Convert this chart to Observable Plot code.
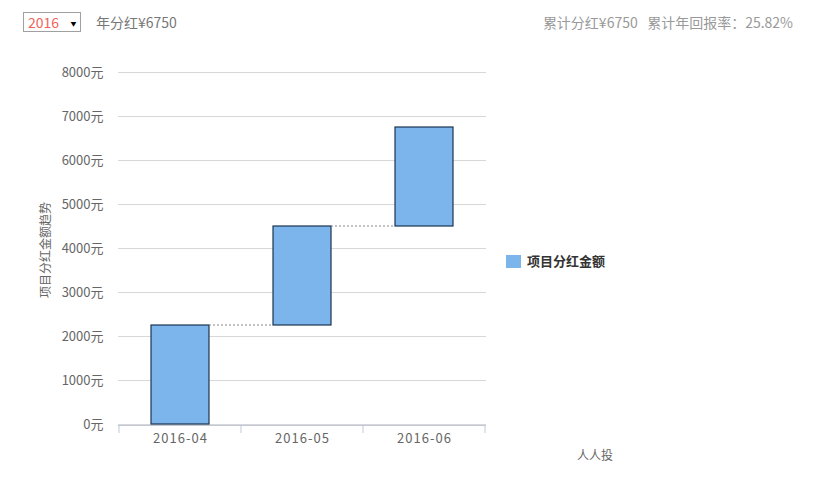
<!DOCTYPE html>
<html><head><meta charset="utf-8">
<script src="https://cdn.jsdelivr.net/npm/d3@7"></script>
<script src="https://cdn.jsdelivr.net/npm/@observablehq/plot@0.6"></script>
<style>
body{margin:0;background:#fff;font-family:"Noto Sans CJK SC","Noto Sans",sans-serif;}
#wrap{position:relative;width:817px;height:493px;overflow:hidden;}
#sel{position:absolute;left:23px;top:12px;width:56px;height:18px;border:1px solid #a0a0a0;font-size:14px;line-height:18px;color:#f0645a;}
#sel span.v{position:absolute;left:4px;top:0;}
#sel span.a{position:absolute;left:46px;top:1px;font-size:7px;color:#000;transform:scale(0.85);}
#yr{position:absolute;left:96px;top:12px;font-size:14px;line-height:20px;color:#777;}
#tot{position:absolute;right:24px;top:12px;font-size:14px;line-height:20px;color:#999;}
#chart{position:absolute;left:0;top:45px;}
#chart g[aria-label="x-axis tick label"] text{letter-spacing:1px;}
#legend{position:absolute;left:506px;top:252px;font-size:13px;font-weight:bold;color:#333;line-height:18px;}
#legend i{display:inline-block;width:15px;height:13px;background:#7cb5ec;vertical-align:-2px;margin-right:6px;}
#credit{position:absolute;left:577px;top:446px;font-size:12px;color:#666;line-height:18px;}
#ylab{position:absolute;left:44px;top:250px;transform:translate(-50%,-50%) rotate(-90deg);font-size:12px;color:#666;white-space:nowrap;}
</style></head>
<body><div id="wrap">
<div id="sel"><span class="v">2016</span><span class="a">▼</span></div>
<div id="yr"></div>
<div id="tot"></div>
<div id="chart"></div>
<div id="ylab">项目分红金额趋势</div>
<div id="legend"><i></i>项目分红金额</div>
<div id="credit">人人投</div>
</div>
<script>
const months = ["2016-04", "2016-05", "2016-06"];
const amounts = [2250, 2250, 2250];
const yTicks = [0, 1000, 2000, 3000, 4000, 5000, 6000, 7000, 8000];
const yearTotal = 6750;
const cumulativeTotal = 6750;
const annualReturn = "25.82%";

document.getElementById("yr").textContent = "年分红¥" + yearTotal;
document.getElementById("tot").innerHTML = "累计分红¥" + cumulativeTotal + "&nbsp;&nbsp;&nbsp;累计年回报率：" + annualReturn;

const ends = d3.cumsum(amounts);
const data = months.map((m, i) => ({month: m, start: ends[i] - amounts[i], end: ends[i]}));

const W = 817, H = 448, ML = 118, MR = 331, MT = 27, MB = 69;
const barInset = 32;

const plot = Plot.plot({
  width: W, height: H,
  marginLeft: ML, marginRight: MR, marginTop: MT, marginBottom: MB,
  style: {fontFamily: '"Noto Sans CJK SC","Noto Sans",sans-serif', fontSize: "13px", color: "#666", background: "#fff"},
  x: {domain: months, padding: 0, axis: null},
  y: {domain: [0, 8000], axis: null},
  marks: [
    Plot.gridY(yTicks, {stroke: "#d8d8d8", strokeOpacity: 1}),
    Plot.axisY(yTicks, {tickSize: 0, tickPadding: 15, label: null, tickFormat: d => d + "元", fill: "#666", fontSize: 13}),
    Plot.axisX(months, {tickSize: 0, tickPadding: 9, label: null, fill: "#666", fontSize: 13}),
    Plot.ruleY([0], {stroke: "#c0c8d8", dy: 1}),
    Plot.barY(data, {x: "month", y1: "start", y2: "end", fill: "#7cb5ec", stroke: "#1b3550", strokeWidth: 1.2, insetLeft: barInset, insetRight: barInset})
  ]
});
document.getElementById("chart").appendChild(plot);

// axis ticks at band boundaries and waterfall connectors, placed with Plot's own scales
const xs = plot.scale("x"), ys = plot.scale("y");
const svg = d3.select(plot);
const bw = xs.bandwidth;
const bounds = months.map(m => xs.apply(m)).concat([xs.apply(months[months.length - 1]) + bw]);
const y0 = ys.apply(0) + 1;
svg.append("g").selectAll("line").data(bounds).join("line")
  .attr("x1", d => d).attr("x2", d => d).attr("y1", y0).attr("y2", y0 + 8)
  .attr("stroke", "#c0c8d8");
svg.append("g").selectAll("line").data(data.slice(0, -1)).join("line")
  .attr("x1", (d, i) => xs.apply(months[i]) + bw - barInset)
  .attr("x2", (d, i) => xs.apply(months[i + 1]) + barInset)
  .attr("y1", d => ys.apply(d.end)).attr("y2", d => ys.apply(d.end))
  .attr("stroke", "#888").attr("stroke-dasharray", "2,2");
</script>
</body></html>
